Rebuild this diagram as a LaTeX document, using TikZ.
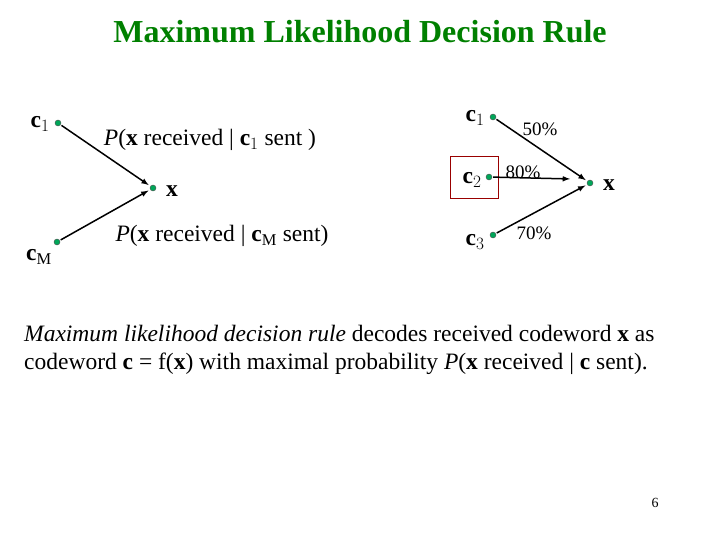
\documentclass[tikz,border=0pt]{standalone}
\usepackage{fontspec}
\setmainfont{Liberation Serif}
\begin{document}
\begin{tikzpicture}[x=1pt,y=-1pt,
  pt/.style={circle,draw=black!70,fill=teal!70!green,inner sep=0pt,minimum size=6pt},
  lbl/.style={inner sep=0pt,font=\fontsize{23.5}{28}\selectfont},
  sm/.style={inner sep=0pt,font=\fontsize{19}{22}\selectfont},
  arr/.style={-latex,line width=1.5pt,shorten >=2pt,shorten <=1pt}]
\useasboundingbox (0,0) rectangle (720,540);
\node[font=\fontsize{32}{36}\selectfont\bfseries,text=green!50!black] (title) at (360,32) {Maximum Likelihood Decision Rule};
% left
\node[pt] (a1) at (58,123) {};
\node[pt] (aM) at (57,242) {};
\node[pt] (ax) at (153,188) {};
\node[lbl] (ta1) at (40,124) {\textbf{c}$_1$};
\node[lbl] (taM) at (39,257) {\textbf{c}$_\mathrm{M}$};
\node[lbl] (tax) at (172,191) {\textbf{x}};
\node[lbl] (p1) at (210,140) {\textit{P}(\textbf{x} received | \textbf{c}$_1$ sent )};
\node[lbl] (pM) at (222,236) {\textit{P}(\textbf{x} received | \textbf{c}$_\mathrm{M}$ sent)};
\draw[arr] (a1) -- (ax);
\draw[arr] (aM) -- (ax);
% right
\node[pt] (b1) at (493,117) {};
\node[pt] (b2) at (489,177) {};
\node[pt] (b3) at (493,235) {};
\node[pt] (bx) at (590,183) {};
\coordinate (e2) at (572,179);
\node[draw=red!60!black,minimum width=48pt,minimum height=42pt,inner sep=0pt] (box) at (474,177) {};
\node[lbl] (tb1) at (475,118) {\textbf{c}$_1$};
\node[lbl] (tb2) at (472,180) {\textbf{c}$_2$};
\node[lbl] (tb3) at (475,242) {\textbf{c}$_3$};
\node[lbl] (tbx) at (609,185) {\textbf{x}};
\node[sm] (q1) at (540,129) {50\%};
\node[sm] (q2) at (523,172) {80\%};
\node[sm] (q3) at (534,233) {70\%};
\draw[arr] (b1) -- (bx);
\draw[arr] (b2) -- (e2);
\draw[arr] (b3) -- (bx);
% text
\node[lbl,anchor=west,align=left] (txt) at (24,350) {\textit{Maximum likelihood decision rule} decodes received codeword \textbf{x} as\\codeword \textbf{c} = f(\textbf{x}) with maximal probability \textit{P}(\textbf{x} received | \textbf{c} sent).};
\node[font=\fontsize{14}{16}\selectfont] (pg) at (655,503) {6};
\end{tikzpicture}
\end{document}
